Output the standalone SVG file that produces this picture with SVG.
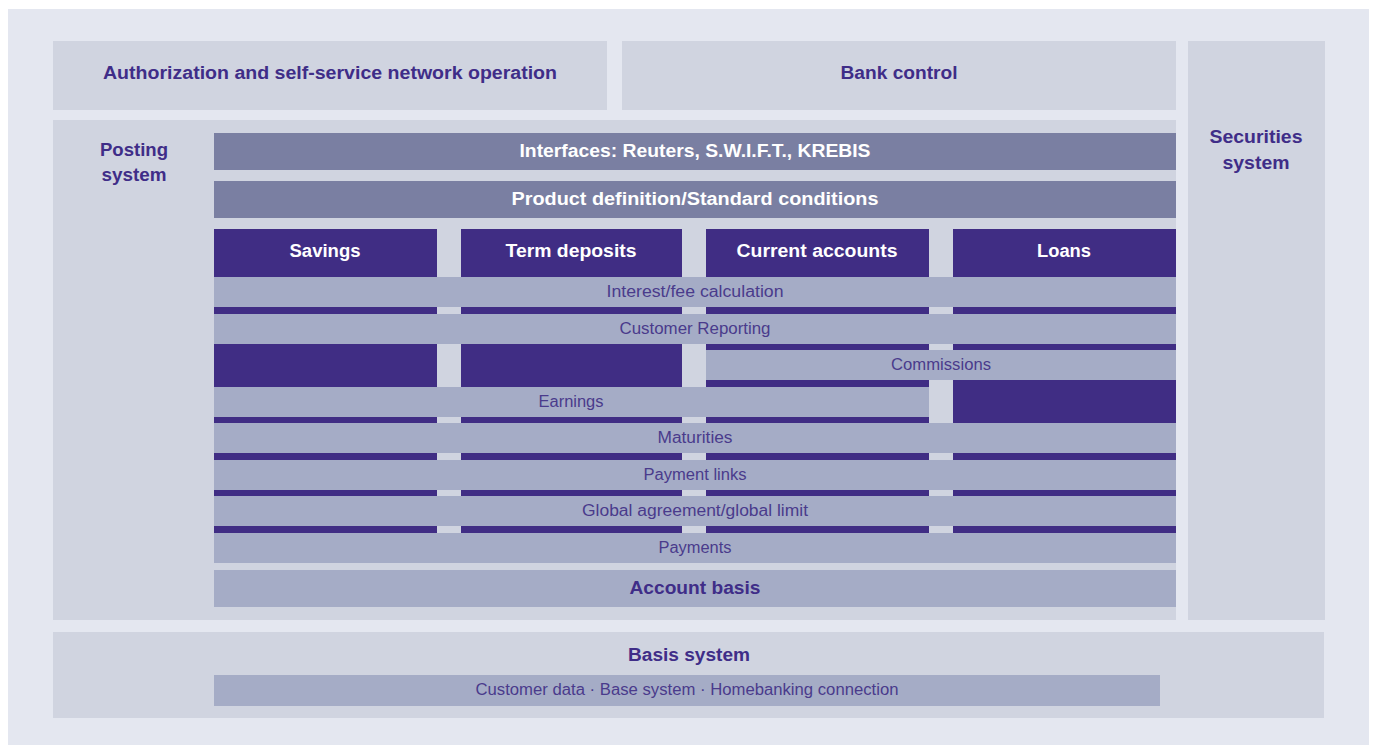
<svg xmlns="http://www.w3.org/2000/svg" width="1375" height="745" viewBox="0 0 1375 745">
<style>
.bg{fill:#e4e7f0}
.panel{fill:#d0d4e0}
.mid{fill:#7a7fa2}
.bar{fill:#a5acc6}
.dark{fill:#402d84}
text{font-family:"Liberation Sans",Arial,sans-serif;text-anchor:middle}
.h{font-weight:bold;font-size:18px;fill:#3f2d88}
.w{font-weight:bold;font-size:18px;fill:#ffffff}
.l{font-size:16px;fill:#4a3b8c}
</style>
<rect x="0" y="0" width="1375" height="745" fill="#ffffff"/>
<rect class="bg" x="8" y="9" width="1361" height="736"/>

<g id="authorization">
<rect class="panel" x="53" y="41" width="554" height="69"/>
<text class="h" x="330" y="79" textLength="454" lengthAdjust="spacingAndGlyphs">Authorization and self-service network operation</text>
</g>
<g id="bank-control">
<rect class="panel" x="622" y="41" width="554" height="69"/>
<text class="h" x="899" y="79" textLength="117" lengthAdjust="spacingAndGlyphs">Bank control</text>
</g>
<g id="securities-system">
<rect class="panel" x="1188" y="41" width="137" height="579"/>
<text class="h" x="1256" y="143" textLength="93" lengthAdjust="spacingAndGlyphs">Securities</text>
<text class="h" x="1256" y="169" textLength="67" lengthAdjust="spacingAndGlyphs">system</text>
</g>

<g id="posting-system">
<rect class="panel" x="53" y="120" width="1123" height="500"/>
<text class="h" x="134" y="156" textLength="68" lengthAdjust="spacingAndGlyphs">Posting</text>
<text class="h" x="134" y="181" textLength="65" lengthAdjust="spacingAndGlyphs">system</text>
</g>

<g id="interfaces">
<rect class="mid" x="214" y="133" width="962" height="37"/>
<text class="w" x="695" y="157" textLength="351" lengthAdjust="spacingAndGlyphs">Interfaces: Reuters, S.W.I.F.T., KREBIS</text>
</g>
<g id="product-definition">
<rect class="mid" x="214" y="181" width="962" height="37"/>
<text class="w" x="695" y="205" textLength="367" lengthAdjust="spacingAndGlyphs">Product definition/Standard conditions</text>
</g>

<g id="savings">
<rect class="dark" x="214" y="229" width="223" height="304"/>
<text class="w" x="325" y="257" textLength="71" lengthAdjust="spacingAndGlyphs">Savings</text>
</g>
<g id="term-deposits">
<rect class="dark" x="461" y="229" width="221" height="304"/>
<text class="w" x="571" y="257" textLength="131" lengthAdjust="spacingAndGlyphs">Term deposits</text>
</g>
<g id="current-accounts">
<rect class="dark" x="706" y="229" width="223" height="304"/>
<text class="w" x="817" y="257" textLength="161" lengthAdjust="spacingAndGlyphs">Current accounts</text>
</g>
<g id="loans">
<rect class="dark" x="953" y="229" width="223" height="304"/>
<text class="w" x="1064" y="257" textLength="54" lengthAdjust="spacingAndGlyphs">Loans</text>
</g>

<g id="interest-fee">
<rect class="bar" x="214" y="277" width="962" height="30"/>
<text class="l" x="695" y="297" textLength="177" lengthAdjust="spacingAndGlyphs">Interest/fee calculation</text>
</g>
<g id="customer-reporting">
<rect class="bar" x="214" y="314" width="962" height="30"/>
<text class="l" x="695" y="334" textLength="151" lengthAdjust="spacingAndGlyphs">Customer Reporting</text>
</g>
<g id="commissions">
<rect class="bar" x="706" y="350" width="470" height="30"/>
<text class="l" x="941" y="370" textLength="100" lengthAdjust="spacingAndGlyphs">Commissions</text>
</g>
<g id="earnings">
<rect class="bar" x="214" y="387" width="715" height="30"/>
<text class="l" x="571" y="407" textLength="65" lengthAdjust="spacingAndGlyphs">Earnings</text>
</g>
<g id="maturities">
<rect class="bar" x="214" y="423" width="962" height="30"/>
<text class="l" x="695" y="443" textLength="75" lengthAdjust="spacingAndGlyphs">Maturities</text>
</g>
<g id="payment-links">
<rect class="bar" x="214" y="460" width="962" height="30"/>
<text class="l" x="695" y="480" textLength="103" lengthAdjust="spacingAndGlyphs">Payment links</text>
</g>
<g id="global-agreement">
<rect class="bar" x="214" y="496" width="962" height="30"/>
<text class="l" x="695" y="516" textLength="226" lengthAdjust="spacingAndGlyphs">Global agreement/global limit</text>
</g>
<g id="payments">
<rect class="bar" x="214" y="533" width="962" height="30"/>
<text class="l" x="695" y="553" textLength="73" lengthAdjust="spacingAndGlyphs">Payments</text>
</g>
<g id="account-basis">
<rect class="bar" x="214" y="570" width="962" height="37"/>
<text class="h" x="695" y="594" textLength="131" lengthAdjust="spacingAndGlyphs">Account basis</text>
</g>

<g id="basis-system">
<rect class="panel" x="53" y="632" width="1271" height="86"/>
<text class="h" x="689" y="661" textLength="122" lengthAdjust="spacingAndGlyphs">Basis system</text>
<rect class="bar" x="214" y="675" width="946" height="31"/>
<text class="l" x="687" y="695" textLength="423" lengthAdjust="spacingAndGlyphs">Customer data · Base system · Homebanking connection</text>
</g>

<g id="connectors"></g>
</svg>
